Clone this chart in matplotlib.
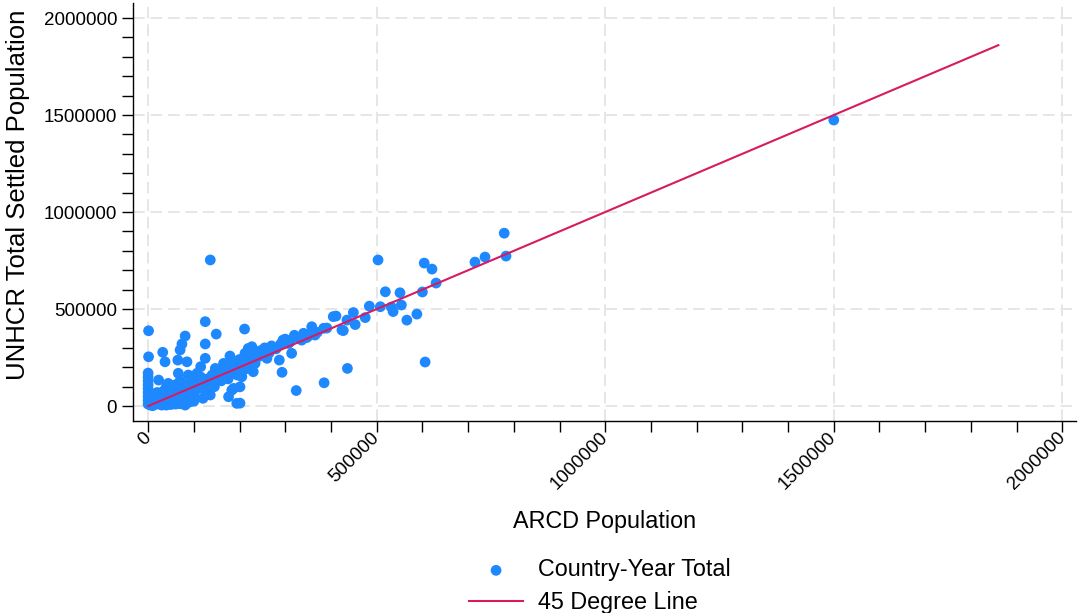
import matplotlib
matplotlib.use("Agg")
import matplotlib.pyplot as plt
from matplotlib.ticker import MultipleLocator
import numpy as np

plt.rcParams['font.family'] = ['Liberation Sans', 'DejaVu Sans']

# country-year totals, in thousands
arcd_k = [1500, 779, 783, 737, 715, 604, 621, 630, 600, 606, 503, 136,
          519, 551, 508, 532, 536, 554, 566, 588, 484, 475, 453, 449, 435,
          427, 436, 405, 411, 391, 358, 347, 336, 365, 384, 424, 385, 324,
          295, 307, 314, 287, 263, 260, 227, 212, 241, 234, 230, 219, 209,
          205, 293, 211, 201, 201, 194, 187, 176, 136, 81, 1, 1, 125, 149,
          81, 74, 70, 32, 37, 125, 125, 115, 65, 85, 66, 88, 107, 147, 165,
          179, 219, 183, 44, 23]
unhcr_k = [1474, 891, 773, 768, 742, 737, 706, 634, 588, 227, 753, 753,
           589, 584, 512, 510, 487, 521, 443, 474, 515, 456, 420, 482, 443,
           389, 194, 461, 464, 402, 409, 353, 340, 366, 401, 392, 120, 80,
           340, 323, 272, 237, 280, 246, 306, 272, 254, 220, 177, 194, 186,
           151, 174, 397, 99, 15, 14, 91, 48, 57, 5, 388, 254, 435, 371,
           361, 320, 289, 277, 228, 320, 246, 203, 237, 228, 169, 160, 169,
           194, 220, 258, 297, 82, 117, 134]

# dense cluster near the origin, in thousands
cluster_x_k = [0, 0, 0, 0, 0, 0, 0, 0, 0, 3, 5, 5, 8, 10, 12, 15, 15, 20,
               20, 25, 25, 30, 30, 35, 35, 40, 40, 45, 50, 50, 55, 60, 60,
               65, 70, 70, 75, 80, 85, 90, 95, 100, 100, 105, 110, 115, 120,
               125, 130, 135, 140, 145, 150, 155, 160, 165, 170, 175, 180,
               185, 190, 195, 200, 205, 210, 215, 220, 225, 230, 240, 245,
               250, 255, 265, 270, 280, 290, 300, 310, 320, 330, 340, 350,
               360, 370, 40, 60, 80, 100, 120, 10, 30, 50, 70, 90,
               20, 45, 65, 85, 110, 130, 150, 170, 190, 210, 230, 175, 195]
cluster_y_k = [10, 30, 50, 70, 90, 110, 130, 150, 170, 20, 40, 5, 60, 15,
               30, 50, 8, 20, 70, 40, 10, 55, 25, 15, 80, 45, 100, 30, 60,
               20, 90, 40, 110, 70, 30, 130, 90, 55, 110, 80, 140, 100, 60,
               125, 90, 150, 110, 80, 140, 120, 160, 100, 150, 175, 130, 200,
               160, 190, 215, 170, 230, 200, 240, 180, 250, 220, 265, 240,
               280, 260, 285, 265, 300, 275, 310, 295, 320, 345, 330, 365,
               350, 375, 360, 390, 380, 5, 10, 15, 25, 40, 2, 5, 8, 12, 20,
               35, 50, 75, 95, 105, 125, 135, 155, 180, 205, 225, 140, 160]

line_end = 1860000

x = np.array(arcd_k + cluster_x_k) * 1000
y = np.array(unhcr_k + cluster_y_k) * 1000

fig = plt.figure(figsize=(10.78, 6.13), dpi=100)
ax = fig.add_axes([0.1234, 0.3132, 0.8748, 0.6818])

blue = '#1E88FF'
red = '#D81B60'

ax.grid(True, which='major', color='#E6E6E6', linestyle=(0, (6, 3)), linewidth=1.4)
ax.set_axisbelow(True)

ax.scatter(x, y, s=60, color=blue, edgecolors='none', zorder=2, label='Country-Year Total')
ax.plot([0, line_end], [0, line_end], color=red, linewidth=1.5, zorder=3, label='45 Degree Line')

ax.set_xlim(-33000, 2030000)
ax.set_ylim(-77000, 2077000)
ax.xaxis.set_major_locator(MultipleLocator(500000))
ax.xaxis.set_minor_locator(MultipleLocator(100000))
ax.yaxis.set_major_locator(MultipleLocator(500000))
ax.yaxis.set_minor_locator(MultipleLocator(100000))
ax.xaxis.set_major_formatter(lambda v, p: f"{int(v)}")
ax.yaxis.set_major_formatter(lambda v, p: f"{int(v)}")

ax.tick_params(which='both', direction='out', length=8, width=1, colors='black', labelsize=13.5)
ax.tick_params(axis='x', pad=2)
for lab in ax.get_xticklabels():
    lab.set_rotation(45)
    lab.set_ha('right')
    lab.set_va('center')
    lab.set_rotation_mode('anchor')

for s in ['top', 'right']:
    ax.spines[s].set_visible(False)
for s in ['left', 'bottom']:
    ax.spines[s].set_linewidth(1)

ax.set_xlabel('ARCD Population', fontsize=16.8, labelpad=12)
ax.set_ylabel('UNHCR Total Settled Population', fontsize=18.5)
ax.yaxis.set_label_coords(-0.109, 0.541)

fig.legend(loc='upper center', bbox_to_anchor=(0.5566, 0.108), frameon=False,
           fontsize=16.8, ncol=1, handlelength=2.3, handletextpad=0.65,
           labelspacing=0.4, borderpad=0)

fig.savefig('out.png', dpi=100)
